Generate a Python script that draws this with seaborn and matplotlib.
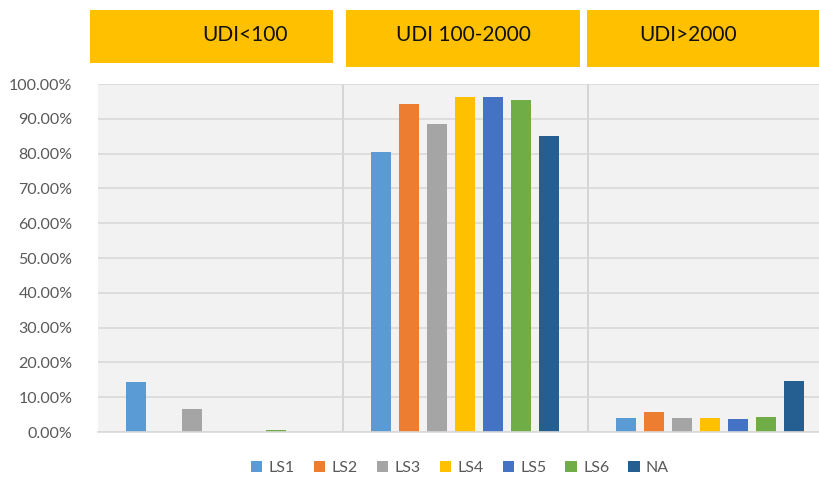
import pandas as pd
import matplotlib.pyplot as plt
import matplotlib.patches as mpatches
import seaborn as sns

# categories and series
groups = ["UDI<100", "UDI 100-2000", "UDI>2000"]
series = ["LS1", "LS2", "LS3", "LS4", "LS5", "LS6", "NA"]
ls1 = [0.145, 0.804, 0.039]
ls2 = [0.0, 0.943, 0.057]
ls3 = [0.065, 0.884, 0.039]
ls4 = [0.0, 0.964, 0.039]
ls5 = [0.0, 0.964, 0.036]
ls6 = [0.006, 0.954, 0.043]
na = [0.0, 0.851, 0.146]
ticks = [i / 10 for i in range(11)]

colors = ["#5B9BD5", "#ED7D31", "#A5A5A5", "#FFC000", "#4472C4", "#70AD47", "#255E91"]

rows = []
for name, vals in zip(series, [ls1, ls2, ls3, ls4, ls5, ls6, na]):
    for g, v in zip(groups, vals):
        rows.append({"group": g, "series": name, "value": v})
df = pd.DataFrame(rows)

sns.set_style("white")
plt.rcParams["font.family"] = ["Lato", "DejaVu Sans"]

fig = plt.figure(figsize=(8.19, 4.8), dpi=100)
W, H = 819, 480
# axes in pixel terms: left 97.5, right 832.5 (runs past figure edge), top 84, bottom 432
ax = fig.add_axes([97.5 / W, 1 - 432 / H, (832.5 - 97.5) / W, (432 - 84) / H])
ax.set_facecolor("#f2f2f2")

sns.barplot(data=df, x="group", y="value", hue="series", palette=colors,
            order=groups, hue_order=series, width=0.8, gap=0.28,
            ax=ax, saturation=1, legend=True, linewidth=0)

ax.set_ylim(0, 1.0)
ax.set_xlim(-0.5, 2.5)
ax.set_yticks(ticks)
ax.set_yticklabels([f"{t * 100:.2f}%" for t in ticks], color="#595959", fontsize=11.5)
ax.tick_params(axis="y", length=0, pad=18)
ax.set_xticks([])
ax.set_xlabel("")
ax.set_ylabel("")
ax.yaxis.grid(True, color="#d9d9d9", linewidth=1.2)
ax.set_axisbelow(True)
for x in [0.5, 1.5]:
    ax.axvline(x, color="#d0d0d0", linewidth=1.2, zorder=0)
for s in ["top", "right", "left"]:
    ax.spines[s].set_visible(False)
ax.spines["bottom"].set_color("#d9d9d9")
ax.spines["bottom"].set_linewidth(1.2)

# header boxes (pixel coords, top origin)
boxes = [(90, 333, 10, 63, 245), (346, 580, 10, 67, 463), (587, 822, 10, 67, 688)]
for (x0, x1, y0, y1, tx), label in zip(boxes, groups):
    fig.patches.append(mpatches.Rectangle((x0 / W, 1 - y1 / H), (x1 - x0) / W, (y1 - y0) / H,
                                          transform=fig.transFigure, facecolor="#FFC000",
                                          edgecolor="none"))
    fig.text(tx / W, 1 - 35 / H, label, ha="center", va="center", fontsize=15, color="#111111")

ax.legend(loc="center", ncol=7, frameon=False, fontsize=11.5, handlelength=0.7,
          handleheight=0.7, handletextpad=0.4, columnspacing=1.2, labelcolor="#595959")
leg = ax.get_legend()
leg.set_bbox_to_anchor((460 / W, 1 - 468 / H), transform=fig.transFigure)

fig.savefig("out.png", dpi=100)
